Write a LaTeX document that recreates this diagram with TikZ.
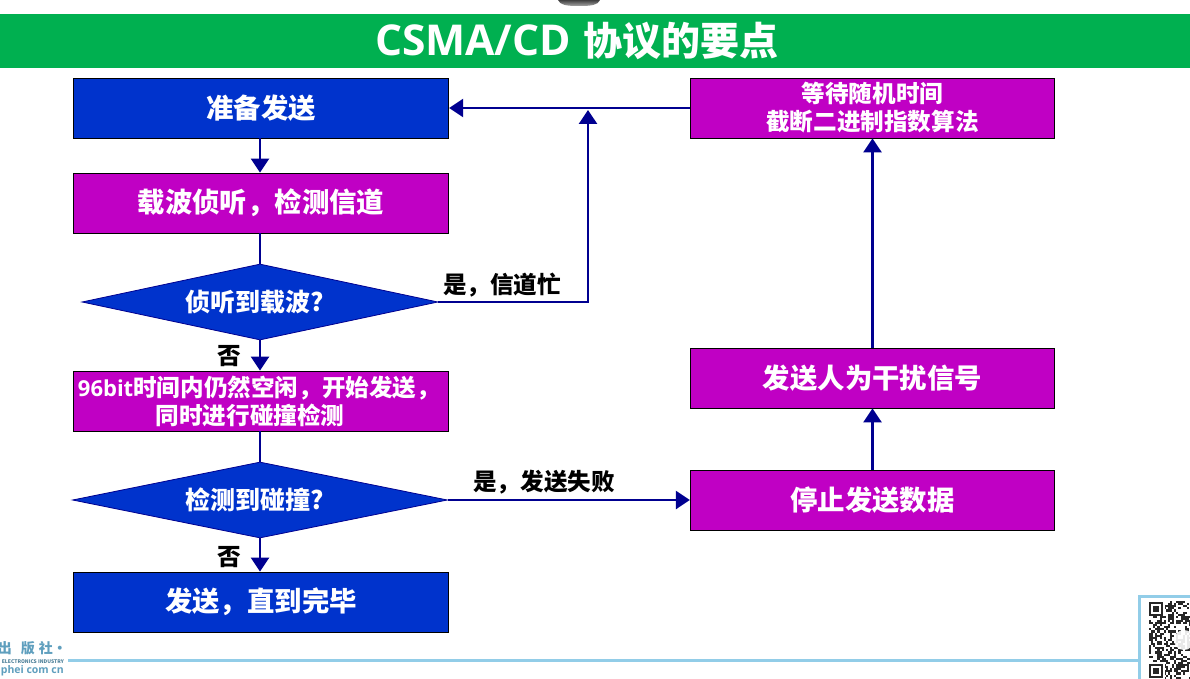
\documentclass[tikz,border=0pt]{standalone}
\usepackage{fontspec}
\setmainfont{Noto Sans CJK SC}
\newfontfamily\latinbold{Open Sans}
\usetikzlibrary{shapes.geometric,arrows.meta}
\definecolor{flowblue}{HTML}{0033CC}
\definecolor{flowmag}{HTML}{C000C4}
\definecolor{flownavy}{HTML}{000090}
\definecolor{band}{HTML}{00B050}
\definecolor{sky}{HTML}{92CDE8}
\definecolor{logoblue}{HTML}{5F9FBE}
\tikzset{
  big/.style={font=\fontsize{27.4}{30}\selectfont\bfseries},
  mid/.style={font=\fontsize{23.6}{28}\selectfont\bfseries},
  bluebox/.style={draw=black,line width=0.8pt,fill=flowblue,text=white,minimum width=375.5pt,minimum height=60pt,inner sep=0pt,align=center,big},
  magbox/.style={draw=black,line width=0.8pt,fill=flowmag,text=white,minimum height=60pt,inner sep=0pt,align=center},
  lmag/.style={magbox,minimum width=375.5pt},
  rmag/.style={magbox,minimum width=364.5pt},
  decide/.style={diamond,draw=flownavy,line width=0.8pt,fill=flowblue,text=white,inner sep=0pt,aspect=4.7,minimum height=76pt,font=\fontsize{25}{28}\selectfont\bfseries},
  flow/.style={draw=flownavy,line width=2.6pt,-{Triangle[width=18pt,length=14pt]}},
  plainflow/.style={draw=flownavy,line width=2.6pt},
  lab/.style={text=black,inner sep=0pt,mid},
}
\begin{document}
\begin{tikzpicture}[x=1pt,y=-1pt]
\useasboundingbox (0,0) rectangle (1190,679);
\clip (0,0) rectangle (1190,679);
\fill[white] (0,0) rectangle (1190,679);
% top smudge and title band
\shade[top color=black!75,bottom color=black!35] (558,0) -- (600,0) .. controls (598,5) and (592,6) .. (579,6) .. controls (566,6) and (560,5) .. (558,0) -- cycle;
\fill[band] (0,14) rectangle (1190,68);
\node[text=white,inner sep=0pt] (title) at (577,41) {\bfseries{\fontsize{42.5}{44}\selectfont\latinbold CSMA/CD}\hspace{13pt}{\fontsize{39}{44}\selectfont 协议的要点}};
% flow nodes
\node[bluebox] (ready) at (261,108) {准备发送};
\node[lmag,big] (sense) at (261,203) {载波侦听，检测信道};
\node[decide,minimum width=356pt] (busy) at (260,302) {侦听到载波?\hspace*{11pt}};
\node[lmag,mid] (tx) at (261,401) {{\fontsize{22}{28}\selectfont\latinbold 96bit}时间内仍然空闲，开始发送，\hspace*{4pt}\\同时进行碰撞检测\hspace*{22pt}};
\node[decide,minimum width=375pt] (coll) at (260,500) {检测到碰撞?\hspace*{11pt}};
\node[bluebox] (done) at (261,602) {发送，直到完毕};
\node[rmag,mid] (wait) at (872.5,108) {等待随机时间\\截断二进制指数算法};
\node[rmag,big] (jam) at (872.5,378) {发送人为干扰信号};
\node[rmag,big] (stop) at (872.5,500) {停止发送数据};
% labels
\node[lab] (yes1) at (502,285) {是，信道忙};
\node[lab] (no1) at (229,356) {否};
\node[lab] (yes2) at (544,482) {是，发送失败};
\node[lab] (no2) at (229,557) {否};
% connectors
\coordinate (merge) at (588,110);
\draw[flow] (busy.north |- ready.south) -- (busy.north |- sense.north);
\draw[plainflow] (busy.north |- sense.south) -- (busy.north);
\draw[flow] (busy.south) -- (busy.south |- tx.north);
\draw[plainflow] (busy.south |- tx.south) -- (coll.north);
\draw[flow] (coll.south) -- (coll.south |- done.north);
\draw[flow] (busy.east) -| (merge);
\draw[flow] (coll.east) -- (stop.west);
\draw[flow] (stop.north) -- (jam.south);
\draw[flow] (jam.north) -- (wait.south);
\draw[flow] (wait.west) -- (ready.east);
% footer
\draw[sky,line width=3pt] (68,660) -- (1140,660);
\draw[sky,line width=3pt] (1190,596.5) -- (1139.5,596.5) -- (1139.5,679);
% logo
\node[text=logoblue,inner sep=0pt,anchor=east] (logo1) at (67,648) {\fontsize{14}{16}\selectfont\bfseries 出\hspace{9pt}版\hspace{4pt}社·};
\node[text=logoblue!80!black,inner sep=0pt,anchor=east] (logo2) at (64,662) {\fontsize{5}{6}\selectfont\bfseries ELECTRONICS INDUSTRY};
\node[text=logoblue,inner sep=0pt,anchor=east] (logo3) at (64,671) {\fontsize{10.5}{12}\selectfont\bfseries\latinbold phei com cn};
% QR code
\pgfmathsetseed{11}
\foreach \i in {0,...,20}{
  \foreach \j in {0,...,37}{
    \pgfmathparse{rnd>0.5?1:0}
    \ifnum\pgfmathresult=1
      \fill[black!85] ({1149+2.1*\i},{601+2.1*\j}) rectangle ++(2.1,2.1);
    \fi
  }
}
\fill[white] (1148,600) rectangle (1165,616);
\fill[white] (1148,662) rectangle (1165,679);
\foreach \yy in {602,664}{
  \fill[black!85] (1149,\yy) rectangle ++(14,14);
  \fill[white] (1151,\yy+2) rectangle ++(10,10);
  \fill[black!85] (1153,\yy+4) rectangle ++(6,6);
}
\fill[white,opacity=0.9] (1184,640) circle (10);
\end{tikzpicture}
\end{document}
